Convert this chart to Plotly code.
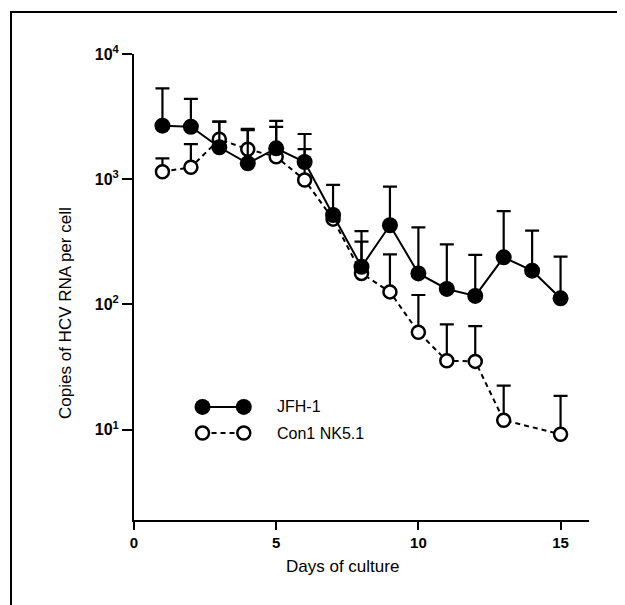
import plotly.graph_objects as go
import math

# ---- data ----
days = list(range(1, 16))
jfh_values = [2675, 2625, 1800, 1340, 1765, 1372, 518, 200, 429, 177, 133, 117, 238, 186, 112]
jfh_err_top = [5320, 4375, 2880, 2520, 2920, 2296, 900, 385, 872, 413, 302, 249, 557, 388, 241]
con1_values = [1148, 1245, 2085, 1735, 1513, 986, 480, 177, 126, 60, 35.5, 35.1, 11.9, None, 9.2]
con1_err_top = [1469, 1910, 2880, 2470, 2620, 1742, 480, 317, 251, 119, 69.4, 67.2, 22.5, None, 18.6]

series_names = ["JFH-1", "Con1 NK5.1"]
x_tickvals = [0, 5, 10, 15]
y_tickvals = [10, 100, 1000, 10000]
y_ticktext = ["10<sup>1</sup>", "10<sup>2</sup>", "10<sup>3</sup>", "10<sup>4</sup>"]
x_title = "Days of culture"
y_title = "Copies of HCV RNA per cell"

def plus(vals, tops):
    return [None if (v is None or t is None) else t - v for v, t in zip(vals, tops)]

FONT = "Liberation Sans, Arial, sans-serif"

fig = go.Figure()

fig.add_trace(go.Scatter(
    x=days, y=con1_values, mode="lines+markers", name=series_names[1],
    connectgaps=True,
    line=dict(color="black", width=2, dash="5px,4px"),
    marker=dict(symbol="circle", size=13, color="white", line=dict(color="black", width=2.5)),
    error_y=dict(type="data", symmetric=False, array=plus(con1_values, con1_err_top),
                 arrayminus=[0] * len(days), color="black", thickness=2.2, width=7),
    showlegend=False,
))
fig.add_trace(go.Scatter(
    x=days, y=jfh_values, mode="lines+markers", name=series_names[0],
    line=dict(color="black", width=2),
    marker=dict(symbol="circle", size=16, color="black"),
    error_y=dict(type="data", symmetric=False, array=plus(jfh_values, jfh_err_top),
                 arrayminus=[0] * len(days), color="black", thickness=2.2, width=7),
    showlegend=False,
))

# ---- in-plot legend (two markers joined by a line, as in the reference) ----
legend_x = [2.41, 3.86]
legend_text_x = 4.95
legend_y = [15.2, 9.4]
fig.add_trace(go.Scatter(
    x=legend_x, y=[legend_y[0]] * 2, mode="lines+markers", showlegend=False, hoverinfo="skip",
    line=dict(color="black", width=2),
    marker=dict(symbol="circle", size=16, color="black"),
))
fig.add_trace(go.Scatter(
    x=legend_x, y=[legend_y[1]] * 2, mode="lines+markers", showlegend=False, hoverinfo="skip",
    line=dict(color="black", width=2, dash="5px,4px"),
    marker=dict(symbol="circle", size=13, color="white", line=dict(color="black", width=2.5)),
))
for name, yv in zip(series_names, legend_y):
    fig.add_annotation(x=legend_text_x, y=math.log10(yv), xref="x", yref="y", text=name,
                       showarrow=False, xanchor="left", yanchor="middle",
                       font=dict(family=FONT, size=16, color="black"))

# axis titles
fig.add_annotation(x=0.459, y=-0.099, xref="paper", yref="paper", text=x_title,
                   showarrow=False, xanchor="center", yanchor="middle",
                   font=dict(family=FONT, size=17, color="black"))
fig.add_annotation(x=-0.152, y=0.444, xref="paper", yref="paper", text=y_title,
                   showarrow=False, xanchor="center", yanchor="middle", textangle=-90,
                   font=dict(family=FONT, size=17, color="black"))

# outer frame
fig.add_shape(type="rect", xref="paper", yref="paper",
              x0=-0.2703, y0=-0.25, x1=1.15, y1=1.0901,
              line=dict(color="black", width=2), fillcolor="rgba(0,0,0,0)", layer="below")

fig.update_xaxes(
    range=[0, 16], tickvals=x_tickvals, ticks="outside", ticklen=8, tickwidth=2,
    tickcolor="black", showline=True, linecolor="black", linewidth=2,
    showgrid=False, zeroline=False,
    tickfont=dict(family=FONT, size=15, color="black", weight="bold"),
)
fig.update_yaxes(
    type="log", range=[math.log10(1.9), 4], tickvals=y_tickvals, ticktext=y_ticktext,
    ticks="outside", ticklen=10, tickwidth=2, tickcolor="black",
    showline=True, linecolor="black", linewidth=2, showgrid=False, zeroline=False,
    tickfont=dict(family=FONT, size=16, color="black", weight="bold"),
)

# the page body adds an 8px offset, so the figure is drawn 8px smaller with shifted margins
fig.update_layout(
    width=617, height=597,
    margin=dict(l=126, r=36, t=46, b=85),
    paper_bgcolor="white", plot_bgcolor="white",
    font=dict(family=FONT, color="black"),
    showlegend=False,
)

fig.write_html("out.html")
